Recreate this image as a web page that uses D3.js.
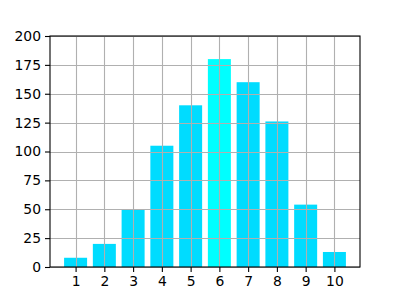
<!DOCTYPE html>
<html>
<head>
<meta charset="utf-8">
<script src="https://cdn.jsdelivr.net/npm/d3@7"></script>
<style>
  body { margin: 0; background: #fff; }
  svg { display: block; font-family: "DejaVu Sans", sans-serif; }
</style>
</head>
<body>
<svg id="canvas" width="400" height="300"></svg>
<script>
let categories = [1, 2, 3, 4, 5, 6, 7, 8, 9, 10]
let values = [8, 20, 50, 105, 140, 180, 160, 126, 54, 13]
let yTicks = [0, 25, 50, 75, 100, 125, 150, 175, 200]
let highlight = 6

let canvas = d3.select('#canvas')

let plotLeft = 50, plotRight = 360, plotTop = 36, plotBottom = 267

// bars are 0.8 wide, matplotlib pads 5% on each side
let xScale = d3.scaleLinear()
                .domain([0.11, 10.89])
                .range([plotLeft, plotRight])

let yScale = d3.scaleLinear()
                .domain([0, 200])
                .range([plotBottom, plotTop])

let barWidth = xScale(0.8) - xScale(0)

canvas.selectAll('rect.bar')
        .data(categories)
        .enter()
        .append('rect')
        .attr('class', 'bar')
        .attr('x', (d) => xScale(d - 0.4))
        .attr('y', (d, i) => yScale(values[i]))
        .attr('width', barWidth)
        .attr('height', (d, i) => yScale(0) - yScale(values[i]))
        .attr('fill', (d) => d === highlight ? '#00ffff' : '#00dcff')

// grid sits on top of the bars
let grid = canvas.append('g')
grid.selectAll('line.v')
        .data(categories)
        .enter()
        .append('line')
        .attr('x1', (d) => Math.round(xScale(d)) + 0.5)
        .attr('x2', (d) => Math.round(xScale(d)) + 0.5)
        .attr('y1', plotTop)
        .attr('y2', plotBottom)
        .attr('stroke', '#b0b0b0')
        .attr('stroke-width', 1.1)
grid.selectAll('line.h')
        .data(yTicks)
        .enter()
        .append('line')
        .attr('x1', plotLeft)
        .attr('x2', plotRight)
        .attr('y1', (d) => Math.round(yScale(d)) + 0.5)
        .attr('y2', (d) => Math.round(yScale(d)) + 0.5)
        .attr('stroke', '#b0b0b0')
        .attr('stroke-width', 1.1)

let xAxis = d3.axisBottom(xScale)
                .tickValues(categories)
                .tickFormat(d3.format('d'))
                .tickSize(5)
                .tickPadding(4)

let yAxis = d3.axisLeft(yScale)
                .tickValues(yTicks)
                .tickFormat(d3.format('d'))
                .tickSize(5)
                .tickPadding(4)

let gx = canvas.append('g')
                .attr('transform', 'translate(0,' + plotBottom + ')')
                .call(xAxis)
let gy = canvas.append('g')
                .attr('transform', 'translate(' + plotLeft + ',0)')
                .call(yAxis)

for (let g of [gx, gy]) {
    g.select('.domain').remove()
    g.selectAll('text')
        .attr('font-family', '"DejaVu Sans", sans-serif')
        .attr('font-size', '13.9px')
        .attr('fill', '#000')
    g.selectAll('line').attr('stroke', '#000').attr('stroke-width', 1.1)
}

// frame
canvas.append('rect')
        .attr('x', plotLeft)
        .attr('y', plotTop)
        .attr('width', plotRight - plotLeft)
        .attr('height', plotBottom - plotTop)
        .attr('fill', 'none')
        .attr('stroke', '#000')
        .attr('stroke-width', 1.1)
</script>
</body>
</html>
